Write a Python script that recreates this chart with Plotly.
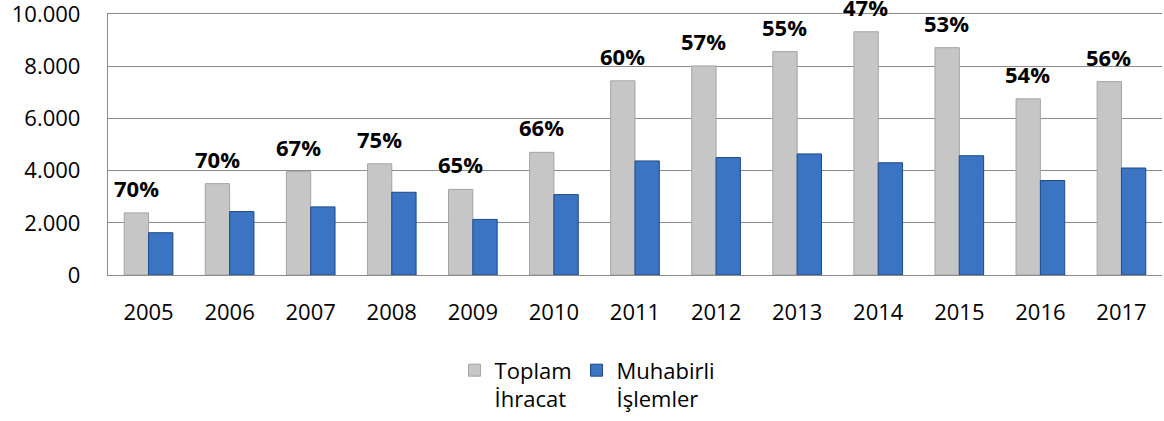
import plotly.graph_objects as go

years = ["2005", "2006", "2007", "2008", "2009", "2010", "2011", "2012", "2013", "2014", "2015", "2016", "2017"]
toplam_ihracat = [2380, 3500, 3960, 4260, 3280, 4700, 7440, 8010, 8560, 9320, 8710, 6750, 7410]
muhabirli_islemler = [1620, 2430, 2610, 3170, 2130, 3080, 4370, 4500, 4640, 4300, 4570, 3620, 4100]
oranlar = ["70%", "70%", "67%", "75%", "65%", "66%", "60%", "57%", "55%", "47%", "53%", "54%", "56%"]

FONT = "Open Sans"

fig = go.Figure()
fig.add_trace(go.Bar(
    x=years, y=toplam_ihracat, name="Toplam<br>İhracat",
    marker=dict(color="#c6c6c6", line=dict(color="#a4a4a4", width=1)),
))
fig.add_trace(go.Bar(
    x=years, y=muhabirli_islemler, name="Muhabirli<br>İşlemler",
    marker=dict(color="#3b74c2", line=dict(color="#1d4a86", width=1)),
))

# category axis: annotation x given as category position (index of the year)
for i, (val, txt) in enumerate(zip(toplam_ihracat, oranlar)):
    fig.add_annotation(
        x=i, y=val, text="<b>" + txt + "</b>", showarrow=False,
        xshift=-12.5, yshift=25, yanchor="middle",
        font=dict(family=FONT, size=22, color="black"),
    )

fig.update_layout(
    width=1164, height=421,
    margin=dict(l=108, r=2, t=14, b=145),
    paper_bgcolor="white", plot_bgcolor="white",
    barmode="group", bargap=0.4, bargroupgap=0,
    separators=",.",
    font=dict(family=FONT, size=22, color="black"),
    showlegend=True,
    legend=dict(
        orientation="h", x=0.455, xanchor="center", y=-0.28, yanchor="top",
        valign="top", font=dict(family=FONT, size=22, color="black"),
        traceorder="normal",
    ),
)
fig.update_xaxes(
    type="category", categoryorder="array", categoryarray=years,
    showline=True, linecolor="#8c8c8c", linewidth=1.3, mirror=True,
    showgrid=False, ticks="outside", ticklen=17, tickcolor="rgba(0,0,0,0)",
    automargin=False,
    tickfont=dict(family=FONT, size=22, color="black"),
)
fig.update_yaxes(
    range=[0, 10000.5], tickvals=[0, 2000, 4000, 6000, 8000, 10000], tickformat=",d",
    showline=True, linecolor="#8c8c8c", linewidth=1.3,
    showgrid=True, gridcolor="#8c8c8c", gridwidth=1.3,
    zeroline=False, ticks="outside", ticklen=22, tickcolor="rgba(0,0,0,0)",
    ticklabeloverflow="allow", automargin=False,
    tickfont=dict(family=FONT, size=22, color="black"),
)

fig.write_html("out.html", config={"displayModeBar": False},
               post_script="document.body.style.margin='0';")
